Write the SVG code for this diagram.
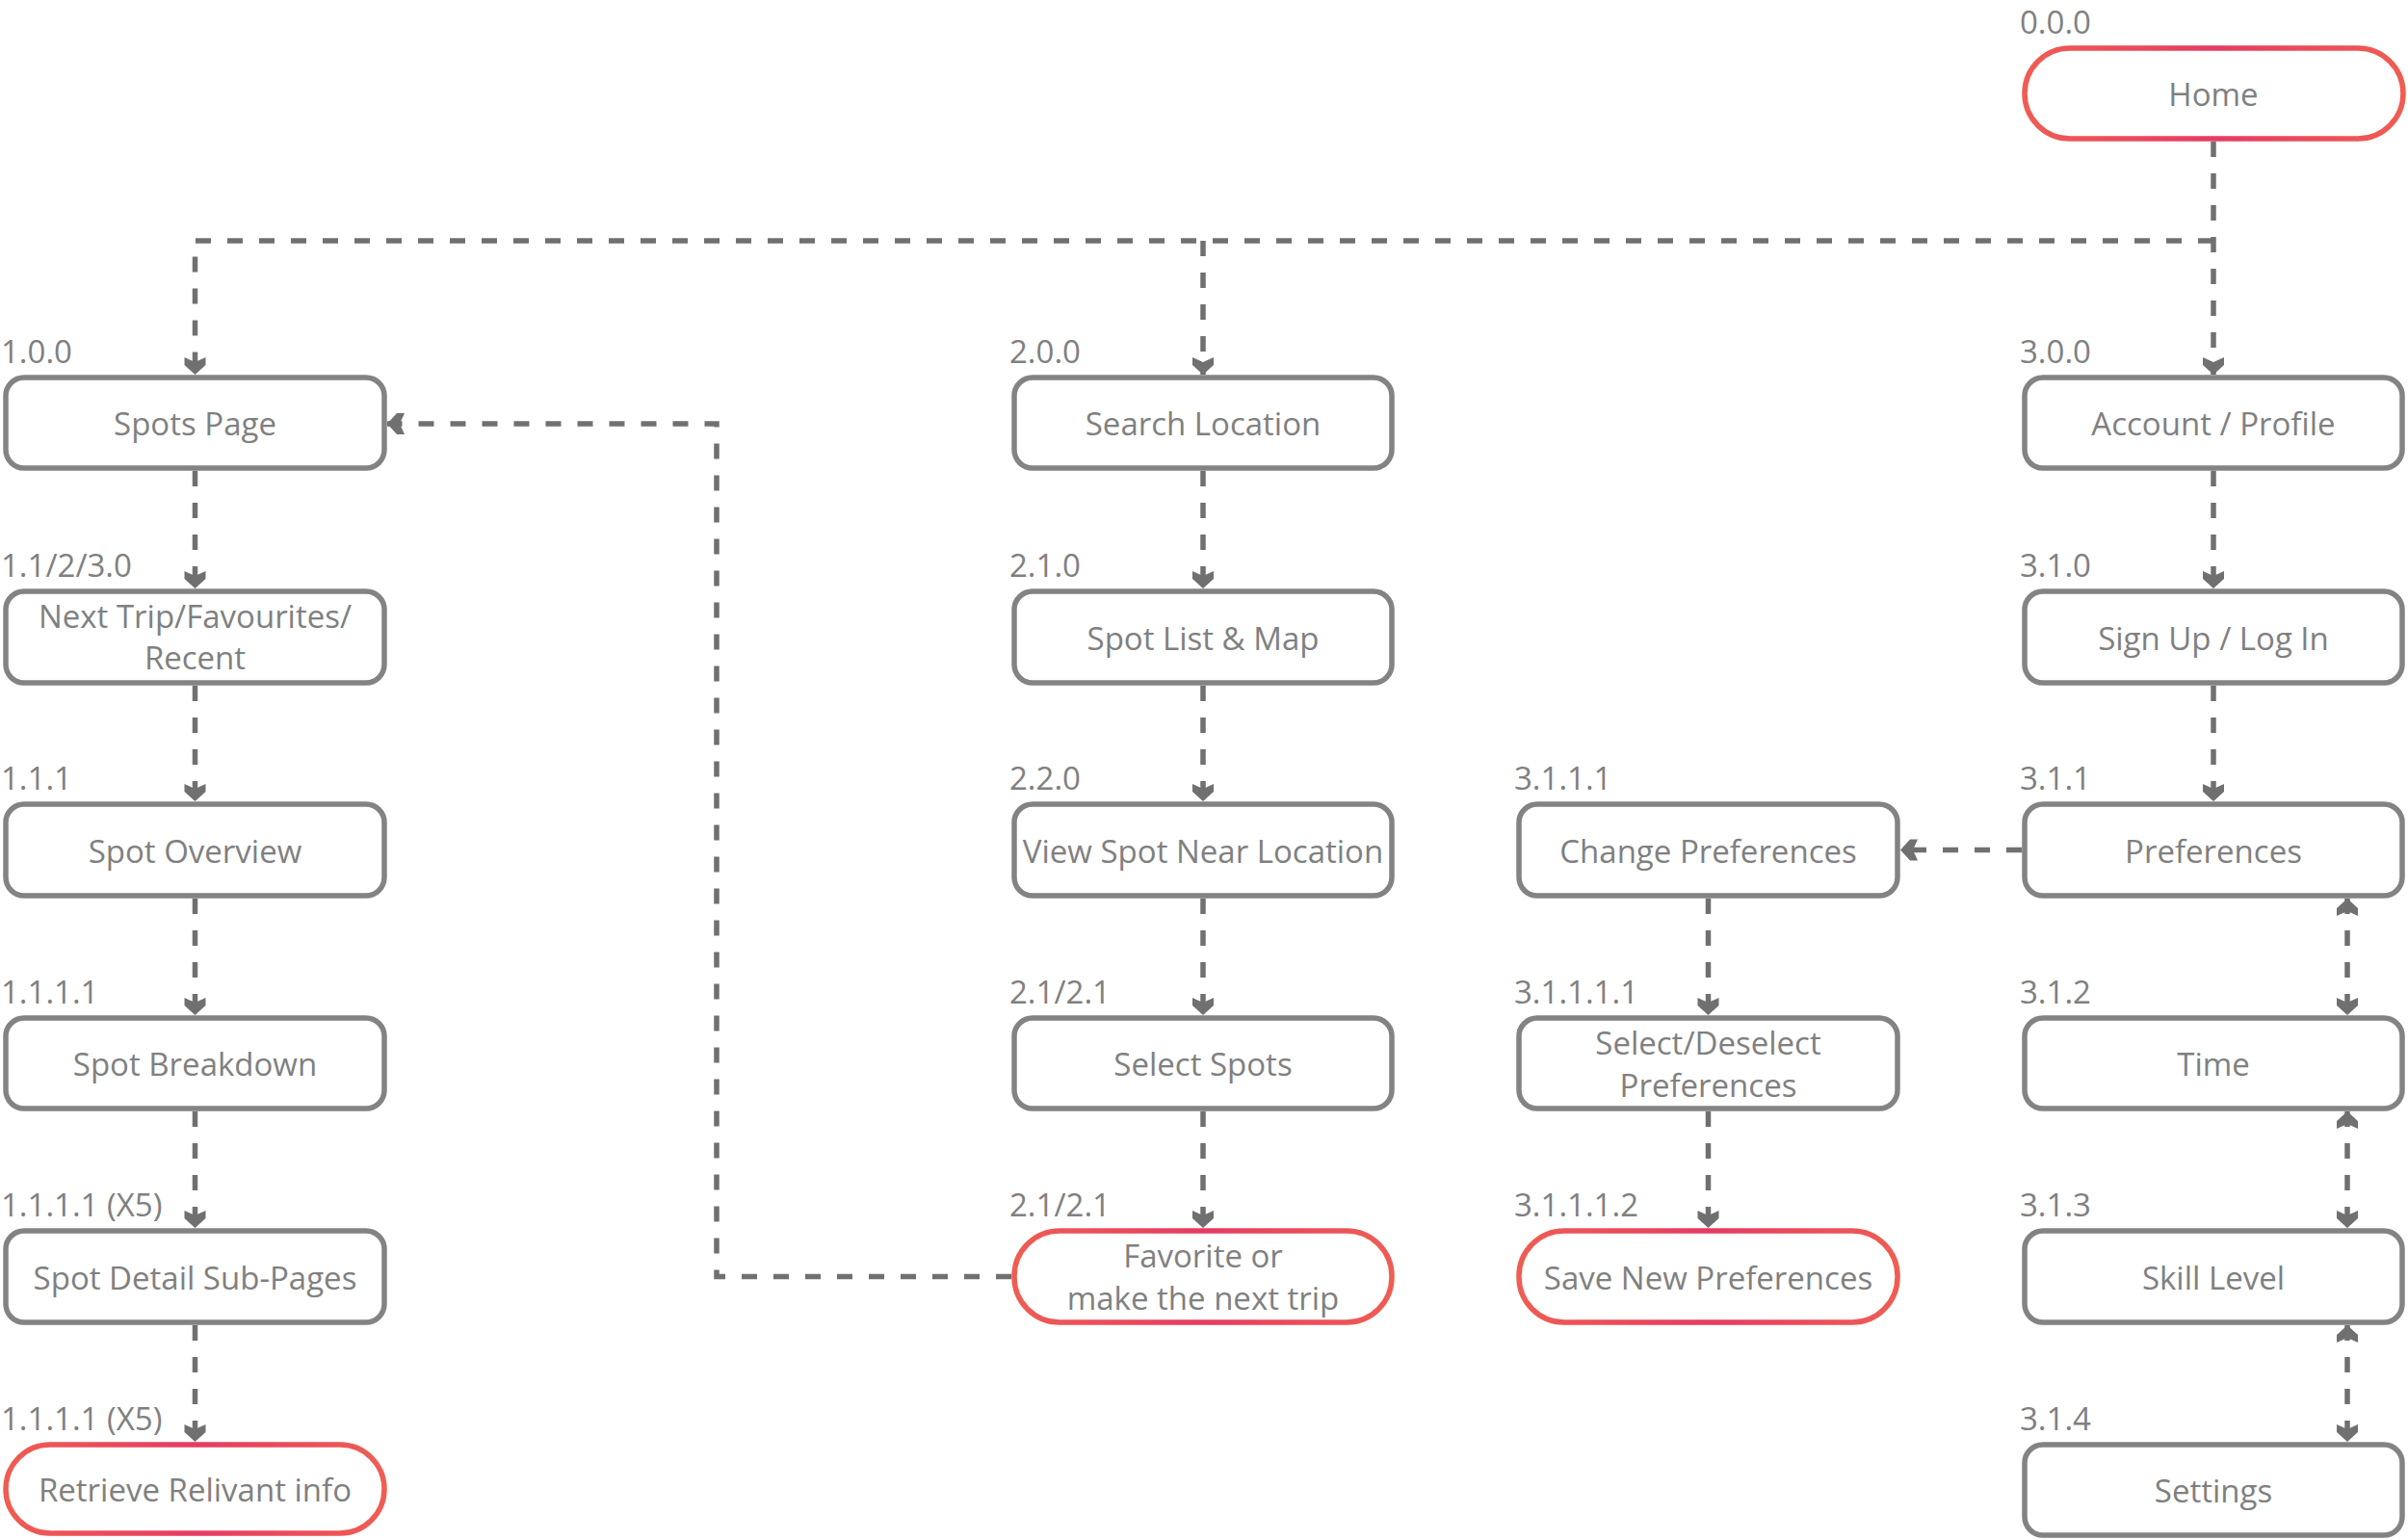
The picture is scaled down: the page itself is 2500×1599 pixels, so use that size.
<svg xmlns="http://www.w3.org/2000/svg" width="2500" height="1599" viewBox="0 0 2500 1599">
<style>
.box{fill:#fff;stroke:#838383;stroke-width:5.5}
.pill{fill:#fff;stroke:url(#pg);stroke-width:5.5}
.t{font-family:"Open Sans","Noto Sans","Liberation Sans",sans-serif;font-size:33px;fill:#808080;text-anchor:middle}
.l{font-family:"Open Sans","Noto Sans","Liberation Sans",sans-serif;font-size:33px;fill:#808080}
.c{fill:none;stroke:#707070;stroke-width:5.5;stroke-dasharray:16 17}
.a{marker-end:url(#ah)}
.b{marker-start:url(#ah);marker-end:url(#ah)}
</style>
<defs>
<linearGradient id="pg" x1="0" y1="0" x2="1" y2="0">
<stop offset="0" stop-color="#ef5d53"/>
<stop offset="0.5" stop-color="#e63b62"/>
<stop offset="1" stop-color="#ef5d53"/>
</linearGradient>
<marker id="ah" markerUnits="userSpaceOnUse" orient="auto-start-reverse" markerWidth="24" markerHeight="26" refX="20" refY="12" viewBox="0 0 24 26" overflow="visible">
<path d="M2,1 L10,1 L20,12 L10,23 L2,23 L7,12 Z" fill="#707070"/>
</marker>
</defs>
<g id="connectors">
<path class="c a" d="M2298,147 V389"/>
<path class="c a" d="M2298,250 H202.5 V389"/>
<path class="c a" d="M1249,250 V389"/>
<path class="c a" d="M202.5,489 V611"/>
<path class="c a" d="M202.5,712 V832"/>
<path class="c a" d="M202.5,933 V1054"/>
<path class="c a" d="M202.5,1154 V1275"/>
<path class="c a" d="M202.5,1376 V1497"/>
<path class="c a" d="M1249,489 V611"/>
<path class="c a" d="M1249,712 V832"/>
<path class="c a" d="M1249,933 V1054"/>
<path class="c a" d="M1249,1154 V1275"/>
<path class="c a" d="M1773.5,933 V1054"/>
<path class="c a" d="M1773.5,1154 V1275"/>
<path class="c a" d="M2298,489 V611"/>
<path class="c a" d="M2298,712 V832"/>
<path class="c a" d="M2099,882.5 H1973"/>
<path class="c b" d="M2437,933 V1054"/>
<path class="c b" d="M2437,1154 V1275"/>
<path class="c b" d="M2437,1376 V1497"/>
<path class="c a" d="M1050,1325.5 H744 V440 H402"/>
</g>
<g id="n000"><rect class="pill" x="2102" y="50" width="393" height="94" rx="47"/><text class="l" x="2097" y="35">0.0.0</text><text class="t" x="2298" y="110">Home</text></g>
<g id="n100"><rect class="box" x="6" y="392" width="393" height="94" rx="19"/><text class="l" x="1" y="377">1.0.0</text><text class="t" x="202.5" y="452">Spots Page</text></g>
<g id="n110"><rect class="box" x="6" y="614" width="393" height="95" rx="19"/><text class="l" x="1" y="599">1.1/2/3.0</text><text class="t" x="202.5" y="652">Next Trip/Favourites/</text><text class="t" x="202.5" y="695">Recent</text></g>
<g id="n111"><rect class="box" x="6" y="835" width="393" height="95" rx="19"/><text class="l" x="1" y="820">1.1.1</text><text class="t" x="202.5" y="895.5">Spot Overview</text></g>
<g id="n1111"><rect class="box" x="6" y="1057" width="393" height="94" rx="19"/><text class="l" x="1" y="1042">1.1.1.1</text><text class="t" x="202.5" y="1117">Spot Breakdown</text></g>
<g id="n1111x5a"><rect class="box" x="6" y="1278" width="393" height="95" rx="19"/><text class="l" x="1" y="1263">1.1.1.1 (X5)</text><text class="t" x="202.5" y="1338.5">Spot Detail Sub-Pages</text></g>
<g id="n1111x5b"><rect class="pill" x="6" y="1500" width="393" height="92" rx="46"/><text class="l" x="1" y="1485">1.1.1.1 (X5)</text><text class="t" x="202.5" y="1559">Retrieve Relivant info</text></g>
<g id="n200"><rect class="box" x="1053" y="392" width="392" height="94" rx="19"/><text class="l" x="1048" y="377">2.0.0</text><text class="t" x="1249" y="452">Search Location</text></g>
<g id="n210"><rect class="box" x="1053" y="614" width="392" height="95" rx="19"/><text class="l" x="1048" y="599">2.1.0</text><text class="t" x="1249" y="674.5">Spot List &amp; Map</text></g>
<g id="n220"><rect class="box" x="1053" y="835" width="392" height="95" rx="19"/><text class="l" x="1048" y="820">2.2.0</text><text class="t" x="1249" y="895.5">View Spot Near Location</text></g>
<g id="n2121a"><rect class="box" x="1053" y="1057" width="392" height="94" rx="19"/><text class="l" x="1048" y="1042">2.1/2.1</text><text class="t" x="1249" y="1117">Select Spots</text></g>
<g id="n2121b"><rect class="pill" x="1053" y="1278" width="392" height="95" rx="47"/><text class="l" x="1048" y="1263">2.1/2.1</text><text class="t" x="1249" y="1315.5">Favorite or</text><text class="t" x="1249" y="1359.5">make the next trip</text></g>
<g id="n3111"><rect class="box" x="1577" y="835" width="393" height="95" rx="19"/><text class="l" x="1572" y="820">3.1.1.1</text><text class="t" x="1773.5" y="895.5">Change Preferences</text></g>
<g id="n31111"><rect class="box" x="1577" y="1057" width="393" height="94" rx="19"/><text class="l" x="1572" y="1042">3.1.1.1.1</text><text class="t" x="1773.5" y="1094.5">Select/Deselect</text><text class="t" x="1773.5" y="1138.5">Preferences</text></g>
<g id="n31112"><rect class="pill" x="1577" y="1278" width="393" height="95" rx="47"/><text class="l" x="1572" y="1263">3.1.1.1.2</text><text class="t" x="1773.5" y="1338.5">Save New Preferences</text></g>
<g id="n300"><rect class="box" x="2102" y="392" width="392" height="94" rx="19"/><text class="l" x="2097" y="377">3.0.0</text><text class="t" x="2298" y="452">Account / Profile</text></g>
<g id="n310"><rect class="box" x="2102" y="614" width="392" height="95" rx="19"/><text class="l" x="2097" y="599">3.1.0</text><text class="t" x="2298" y="674.5">Sign Up / Log In</text></g>
<g id="n311"><rect class="box" x="2102" y="835" width="392" height="95" rx="19"/><text class="l" x="2097" y="820">3.1.1</text><text class="t" x="2298" y="895.5">Preferences</text></g>
<g id="n312"><rect class="box" x="2102" y="1057" width="392" height="94" rx="19"/><text class="l" x="2097" y="1042">3.1.2</text><text class="t" x="2298" y="1117">Time</text></g>
<g id="n313"><rect class="box" x="2102" y="1278" width="392" height="95" rx="19"/><text class="l" x="2097" y="1263">3.1.3</text><text class="t" x="2298" y="1338.5">Skill Level</text></g>
<g id="n314"><rect class="box" x="2102" y="1500" width="392" height="94" rx="19"/><text class="l" x="2097" y="1485">3.1.4</text><text class="t" x="2298" y="1560">Settings</text></g>
</svg>
